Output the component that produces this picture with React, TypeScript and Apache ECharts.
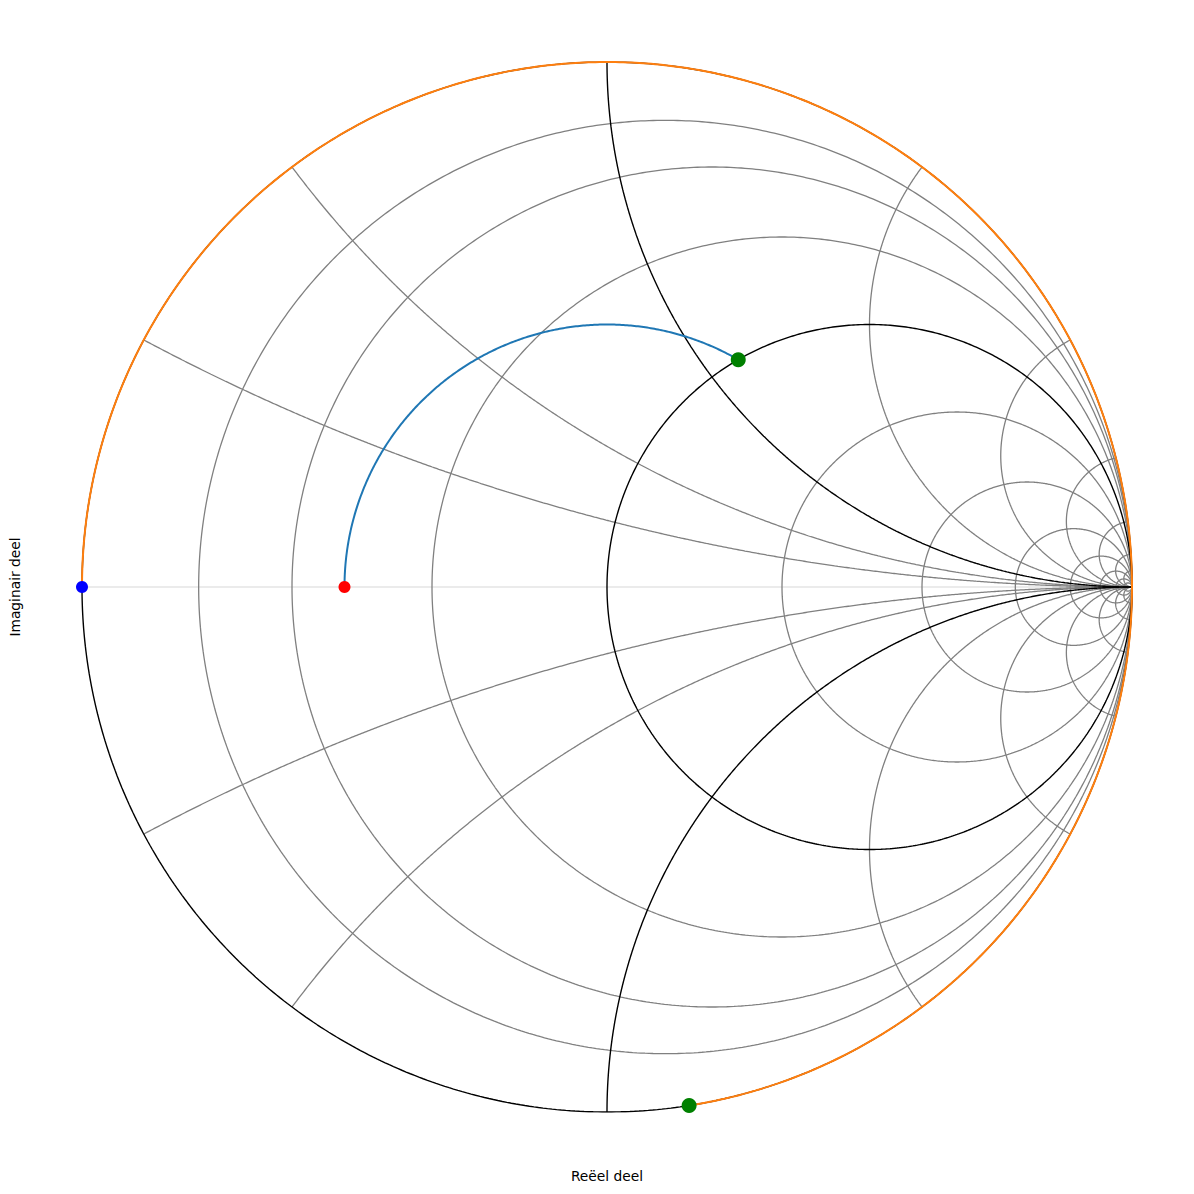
import React, { useEffect, useRef } from "react";
import * as echarts from "echarts";

// Smith chart grid values
const resistanceGrid = [0.125, 0.25, 0.5, 2, 4, 8, 16, 32, 64, 128];
const reactanceGrid = [0.25, 0.5, 2, 4, 8, 16, 32, 64];
const majorResistance = [0, 1];
const majorReactance = [1, -1];

// Data (reflection-coefficient plane)
const shortCircuitPoint = [-1, 0];
const loadPoint = [-0.5, 0];
const swrRadius = 0.5;
const lineSweepDeg = [180, 60];
const matchPoint = [0.25, 0.433];
const stubSweepDeg = [180, -81];
const stubEndPoint = [0.1564, -0.9877];
const realAxisLine = [
  [-1, 0],
  [1, 0],
];
const xAxisName = "Reëel deel";
const yAxisName = "Imaginair deel";

function arc(cx: number, cy: number, R: number, a0: number, a1: number, n = 360) {
  const pts: number[][] = [];
  for (let i = 0; i <= n; i++) {
    const a = ((a0 + ((a1 - a0) * i) / n) * Math.PI) / 180;
    pts.push([cx + R * Math.cos(a), cy + R * Math.sin(a)]);
  }
  return pts;
}

function resistanceCircle(r: number) {
  return arc(r / (1 + r), 0, 1 / (1 + r), 0, 360, 720);
}

function reactanceArc(x: number) {
  const ax = Math.abs(x);
  let end = (Math.atan2(ax * ax - 1, -2 * ax) * 180) / Math.PI;
  if (end > -90) end -= 360;
  const pts = arc(1, 1 / ax, 1 / ax, -90, end, 600);
  return x > 0 ? pts : pts.map(([a, b]) => [a, -b]);
}

function lineSeries(data: number[][], color: string, width: number, z: number) {
  return {
    type: "line",
    data,
    showSymbol: false,
    symbol: "none",
    silent: true,
    z,
    lineStyle: { color, width },
  };
}

export default function App() {
  const ref = useRef<HTMLDivElement>(null);
  useEffect(() => {
    if (!ref.current) return;
    const chart = echarts.init(ref.current, null, { renderer: "svg" });
    const series: any[] = [];
    series.push(lineSeries(realAxisLine, "#e4e4e4", 1.5, 1));
    resistanceGrid.forEach((r) => series.push(lineSeries(resistanceCircle(r), "#808080", 1.3, 2)));
    reactanceGrid.forEach((x) => {
      series.push(lineSeries(reactanceArc(x), "#808080", 1.3, 2));
      series.push(lineSeries(reactanceArc(-x), "#808080", 1.3, 2));
    });
    majorResistance.forEach((r) => series.push(lineSeries(resistanceCircle(r), "#000000", 1.4, 3)));
    majorReactance.forEach((x) => series.push(lineSeries(reactanceArc(x), "#000000", 1.4, 3)));
    series.push(lineSeries(arc(0, 0, swrRadius, lineSweepDeg[0], lineSweepDeg[1], 300), "#1f77b4", 2, 4));
    series.push(lineSeries(arc(0, 0, 1, stubSweepDeg[0], stubSweepDeg[1], 600), "#ff7f0e", 2, 4));
    series.push({
      type: "scatter",
      data: [shortCircuitPoint],
      symbolSize: 12,
      itemStyle: { color: "#0000ff", opacity: 1 },
      silent: true,
      z: 5,
    });
    series.push({
      type: "scatter",
      data: [loadPoint],
      symbolSize: 12,
      itemStyle: { color: "#ff0000", opacity: 1 },
      silent: true,
      z: 5,
    });
    series.push({
      type: "scatter",
      data: [matchPoint, stubEndPoint],
      symbolSize: 15,
      itemStyle: { color: "#008000", opacity: 1 },
      silent: true,
      z: 6,
    });

    chart.setOption({
      animation: false,
      backgroundColor: "#ffffff",
      grid: { left: 82, top: 62, width: 1050, height: 1050 },
      xAxis: {
        type: "value",
        min: -1,
        max: 1,
        name: xAxisName,
        nameLocation: "middle",
        nameGap: 57,
        nameTextStyle: { fontFamily: "DejaVu Sans", fontSize: 13.8, color: "#000" },
        axisLine: { show: false },
        axisTick: { show: false },
        axisLabel: { show: false },
        splitLine: { show: false },
      },
      yAxis: {
        type: "value",
        min: -1,
        max: 1,
        name: yAxisName,
        nameLocation: "middle",
        nameGap: 60,
        nameTextStyle: { fontFamily: "DejaVu Sans", fontSize: 13.8, color: "#000" },
        axisLine: { show: false },
        axisTick: { show: false },
        axisLabel: { show: false },
        splitLine: { show: false },
      },
      series,
    });
    return () => chart.dispose();
  }, []);
  return (
    <div
      ref={ref}
      style={{ position: "fixed", left: 0, top: 0, width: 1194, height: 1194, background: "#fff" }}
    />
  );
}
